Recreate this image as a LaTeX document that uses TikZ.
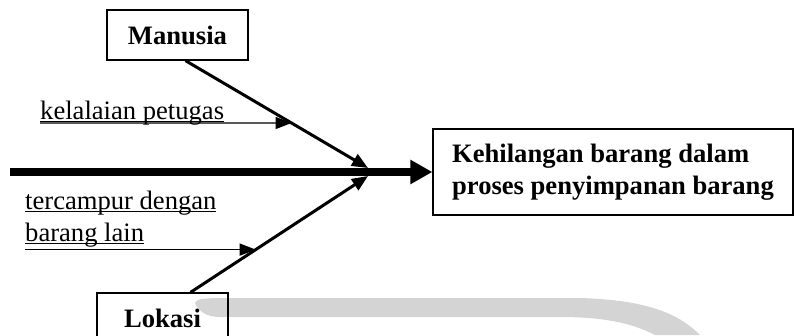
\documentclass[tikz,border=0pt]{standalone}
\usepackage{fontspec}
\setmainfont{Liberation Serif}
\usetikzlibrary{arrows.meta,calc}

\newcommand{\undl}[1]{\setbox0=\hbox{#1}\rlap{\rule[-2.5pt]{\wd0}{1.2pt}}\box0}
\newcommand{\fishfont}{\fontsize{26.6}{32}\selectfont}

\tikzset{
  causebox/.style={draw, line width=1.3pt, font=\fishfont\bfseries, minimum height=50pt, inner sep=0pt},
  effectbox/.style={draw, line width=1.3pt, font=\fishfont\bfseries, align=left, minimum width=360pt, minimum height=86pt},
  causetext/.style={font=\fishfont, inner sep=0pt, align=left},
  spine/.style={line width=8pt, -{Triangle[length=22pt,width=23pt]}},
  bone/.style={line width=3pt, -{Triangle[length=16pt,width=13pt]}},
  subbone/.style={line width=1.4pt, -{Triangle[length=16pt,width=12pt]}},
}

\begin{document}
\begin{tikzpicture}[x=1pt, y=-1pt]
\clip (0,0) rectangle (794,335);

% Watermark band
\fill[black!17] (195,303) .. controls (198,299) .. (215,298) -- (580,298)
    .. controls (650,300) and (680,315) .. (700,335) -- (655,335)
    .. controls (630,322) and (600,317) .. (560,317) -- (220,317)
    .. controls (205,317) and (198,310) .. (195,303) -- cycle;

% Effect
\node[effectbox] (eff) at (613,172) {Kehilangan barang dalam\\proses penyimpanan barang};

% Spine
\coordinate (tail) at (10,172);
\draw[spine] (tail) -- (eff.west);

% Causes
\node[causebox, minimum width=141pt] (man) at (177.5,35) {Manusia};
\node[causebox, minimum width=131pt] (lok) at (162.5,318) {Lokasi};

\coordinate (jtop) at (368,168);
\coordinate (jbot) at (368,176);
\coordinate (manS) at ([xshift=8pt]man.south);
\coordinate (lokN) at ([xshift=28pt]lok.north);
\draw[bone] (manS) -- (jtop);
\draw[bone] (lokN) -- (jbot);

% Sub-causes
\node[causetext, anchor=base west] (kel) at (40,119.5) {\undl{kelalaian petugas}};
\coordinate (kelA) at ([yshift=-3.5pt]kel.base west);
\coordinate (kelB) at ($(kelA)+(400,0)$);
\coordinate (kelT) at (intersection of kelA--kelB and manS--jtop);
\draw[subbone] (kelA) -- (kelT);

\node[causetext, anchor=north west] (ter) at (25,191) {\undl{tercampur dengan}\\\undl{barang lain}};
\coordinate (terA) at ([yshift=-2pt]ter.south west);
\coordinate (terB) at ($(terA)+(400,0)$);
\coordinate (terT) at (intersection of terA--terB and lokN--jbot);
\draw[subbone] (terA) -- (terT);

\end{tikzpicture}
\end{document}
